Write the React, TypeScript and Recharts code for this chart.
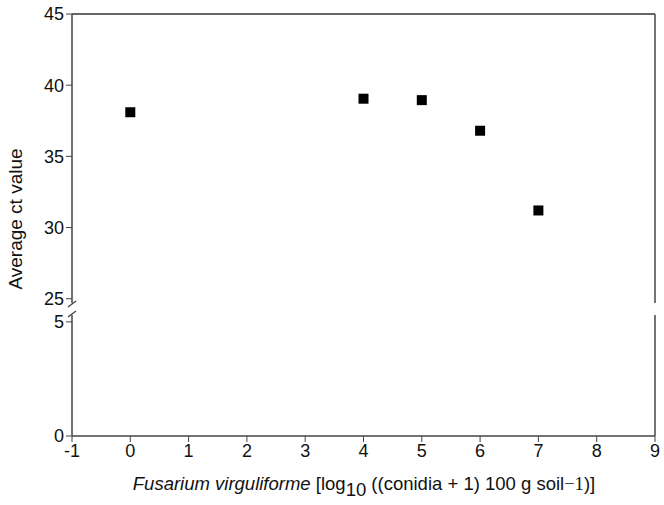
import React from "react";
import { ScatterChart, Scatter, XAxis, YAxis } from "recharts";

// F. virguliforme inoculum level (log10) vs. average ct value
const inoculum = [0, 4, 5, 6, 7];
const avgCt = [38.1, 39.05, 38.95, 36.8, 31.2];
const xTicks = [-1, 0, 1, 2, 3, 4, 5, 6, 7, 8, 9];
const upperTicks = [25, 30, 35, 40, 45];
const lowerTicks = [0, 5];

const points = inoculum.map((x, i) => ({ x, y: avgCt[i] }));

const W = 664;
const H = 505;
const LEFT = 72;
const RIGHT = 9;
const TOP = 14;
const UPPER_BOTTOM = 303; // y of upper panel bottom
const LOWER_TOP = 315; // y of lower panel top
const AXIS_Y = 436; // x axis
const PAD = 16; // extra room so edge tick labels are not clipped

const FONT = "'Liberation Sans', Arial, Helvetica, sans-serif";
const tickStyle = { fill: "#111", fontSize: 18, fontFamily: FONT };
const axisColor = "#444";

const Square = (props: any) => {
  const { cx, cy } = props;
  return <rect x={cx - 5} y={cy - 5} width={10} height={10} fill="#000" />;
};

const App: React.FC = () => (
  <div style={{ position: "absolute", left: 0, top: 0, width: W, height: H, background: "#fff", fontFamily: FONT }}>
    {/* upper panel: 25-45 */}
    <div style={{ position: "absolute", left: 0, top: 0 }}>
      <ScatterChart width={W} height={UPPER_BOTTOM + PAD} margin={{ top: TOP - 1, right: RIGHT - 1, bottom: PAD, left: 0 }}>
        <XAxis xAxisId="top" orientation="top" type="number" dataKey="x" domain={[-1, 9]} ticks={xTicks} tick={false} tickLine={false} height={1} axisLine={{ stroke: "#666", strokeWidth: 2 }} />
        <YAxis type="number" dataKey="y" domain={[24.7, 45]} ticks={upperTicks} width={LEFT} tickSize={6} tick={tickStyle} tickLine={{ stroke: axisColor }} axisLine={{ stroke: axisColor, strokeWidth: 1.5 }} interval={0} allowDataOverflow />
        <YAxis yAxisId="r" orientation="right" type="number" domain={[24.7, 45]} width={1} tick={false} tickLine={false} axisLine={{ stroke: axisColor, strokeWidth: 1.5 }} />
        <Scatter xAxisId="top" data={points} shape={Square} isAnimationActive={false} />
      </ScatterChart>
    </div>
    {/* lower panel: 0-5 */}
    <div style={{ position: "absolute", left: 0, top: LOWER_TOP - PAD }}>
      <ScatterChart width={W} height={H - LOWER_TOP + PAD} margin={{ top: PAD, right: RIGHT - 1, bottom: H - AXIS_Y - 30, left: 0 }}>
        <XAxis type="number" dataKey="x" domain={[-1, 9]} ticks={xTicks} interval={0} height={30} tickSize={6} tick={tickStyle} tickLine={{ stroke: axisColor }} axisLine={{ stroke: axisColor, strokeWidth: 1.5 }} />
        <YAxis type="number" dataKey="y" domain={[0, 5.3]} ticks={lowerTicks} width={LEFT} tickSize={6} tick={tickStyle} tickLine={{ stroke: axisColor }} axisLine={{ stroke: axisColor, strokeWidth: 1.5 }} interval={0} allowDataOverflow />
        <YAxis yAxisId="r" orientation="right" type="number" domain={[0, 5.3]} width={1} tick={false} tickLine={false} axisLine={{ stroke: axisColor, strokeWidth: 1.5 }} />
        {/* same points; all lie above this panel's range and are clipped */}
        <Scatter data={points} shape={Square} isAnimationActive={false} />
      </ScatterChart>
    </div>
    {/* axis break marks and titles */}
    <svg width={W} height={H} style={{ position: "absolute", left: 0, top: 0, pointerEvents: "none" }}>
      <line x1={LEFT - 4} y1={UPPER_BOTTOM + 4} x2={LEFT + 4} y2={UPPER_BOTTOM - 2} stroke={axisColor} strokeWidth={1.3} />
      <line x1={LEFT - 4} y1={LOWER_TOP + 2} x2={LEFT + 4} y2={LOWER_TOP - 4} stroke={axisColor} strokeWidth={1.3} />
      <text x={15} y={219} transform="rotate(-90 15 219)" textAnchor="middle" dominantBaseline="central" fontSize={19} fill="#111" fontFamily={FONT}>
        Average ct value
      </text>
      <text x={364} y={490} textAnchor="middle" fontSize={18.5} fill="#111" fontFamily={FONT}>
        <tspan fontStyle="italic">Fusarium virguliforme</tspan>
        <tspan> [log</tspan>
        <tspan dy={6}>10</tspan>
        <tspan dy={-6}> ((conidia + 1) 100 g soil</tspan>
        <tspan fontFamily="'Liberation Serif', serif">−1</tspan>
        <tspan>)]</tspan>
      </text>
    </svg>
  </div>
);

export default App;
